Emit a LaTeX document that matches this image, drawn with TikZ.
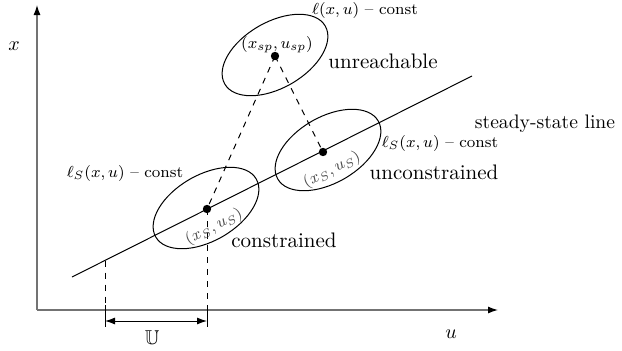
\documentclass[tikz,border=0pt]{standalone}
\usepackage{amsmath,amssymb}
\usepackage{tikz}
\usetikzlibrary{arrows.meta}

\begin{document}
\begin{tikzpicture}[
x=0.5pt, y=0.5pt,
axis/.style={draw=black!55, line width=0.6pt, -{Latex[length=5pt, width=3.5pt, black]}},
level/.style={line width=0.5pt},
guide/.style={dashed, line width=0.5pt, dash pattern=on 3pt off 3pt},
biglabel/.style={font=\fontsize{10.5}{12}\selectfont},
smalllabel/.style={font=\footnotesize},
steadylabel/.style={font=\footnotesize, text=black!70, rotate=26.6, inner sep=1pt}
]
\useasboundingbox (0,0) rectangle (622,350);

% axes
\coordinate (origin) at (37,40);
\draw[axis] (origin) -- (37,345);
\draw[axis] (origin) -- (498,40);
\node (xlabel) at (14,304) {$x$};
\node (ulabel) at (451,16) {$u$};

% steady-state line
\coordinate (lineA) at (72,73);
\coordinate (lineB) at (472,274);
\draw[level] (lineA) -- (lineB);
\node[biglabel, font=\fontsize{9.8}{12}\selectfont] (steady) at (545,226) {steady-state line};

% points
\coordinate (sp) at (275,294);
\coordinate (cs) at (207,141);
\coordinate (us) at (323,198);
\fill (sp) circle (4.2);
\fill (cs) circle (4.2);
\fill (us) circle (4.2);

% level sets
\draw[level, rotate around={30:(275,295)}] (275,295) ellipse [x radius=58, y radius=33];
\draw[level, rotate around={30:(206,142)}] (206,142) ellipse [x radius=58, y radius=33];
\draw[level, rotate around={30:(328,200)}] (328,200) ellipse [x radius=58, y radius=33];

\draw[guide] (sp) -- (cs);
\draw[guide] (sp) -- (us);

% input range
\coordinate (lowU) at (105,89.5);
\draw[guide] (lowU) -- (105,45);
\draw[guide] (cs) -- (207,45);
\draw[level] (105,45) -- (105,23);
\draw[level] (207,45) -- (207,23);
\draw[level, {Latex[length=5pt, width=3.5pt]}-{Latex[length=5pt, width=3.5pt]}] (105,29) -- (207,29);
\node (urange) at (152,12) {$\mathbb{U}$};

% labels
\node[smalllabel] (lsp) at (365,340) {$\ell(x,u)$ -- const};
\node[smalllabel] (splabel) at (277,305) {$(x_{sp},u_{sp})$};
\node[biglabel] (unreach) at (383,289) {unreachable};
\node[smalllabel] (lus) at (440,207) {$\ell_S(x,u)$ -- const};
\node[biglabel] (uncons) at (434,178) {unconstrained};
\node[steadylabel] (uslabel) at (332,180) {$(x_S,u_S)$};
\node[smalllabel] (lcs) at (125,177) {$\ell_S(x,u)$ -- const};
\node[steadylabel] (cslabel) at (214,123) {$(x_S,u_S)$};
\node[biglabel] (cons) at (284,110) {constrained};
\end{tikzpicture}
\end{document}
